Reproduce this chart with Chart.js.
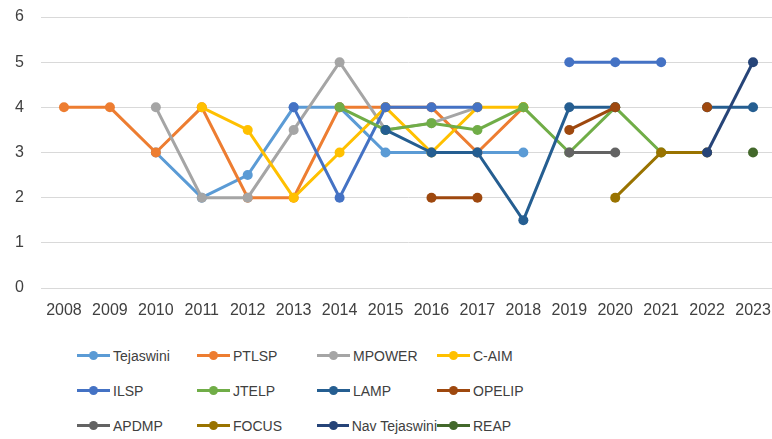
<!DOCTYPE html>
<html>
<head>
<meta charset="utf-8">
<script src="https://cdn.jsdelivr.net/npm/chart.js@4"></script>
<style>
  body { margin: 0; background: #fff; font-family: "Liberation Sans", Arial, sans-serif; }
  #wrap { position: relative; width: 772px; height: 439px; overflow: hidden; }
  #box { position: absolute; left: 0; top: 0; width: 781px; height: 330px; }
  #legend { position: absolute; left: 77px; top: 338px; display: grid;
            grid-template-columns: repeat(4, 120px); grid-auto-rows: 35px; }
  .item { display: flex; align-items: center; font-size: 14px; color: #404040; white-space: nowrap; }
  .swatch { position: relative; width: 33px; height: 3px; margin-right: 3px; }
  .swatch i { position: absolute; left: 12px; top: -3px; width: 9px; height: 9px; border-radius: 50%; }
</style>
</head>
<body>
<div id="wrap">
  <div id="box"><canvas id="chart"></canvas></div>
  <div id="legend"></div>
</div>
<script>
"use strict";

const years = ['2008','2009','2010','2011','2012','2013','2014','2015','2016','2017','2018','2019','2020','2021','2022','2023'];
const names = ['Tejaswini','PTLSP','MPOWER','C-AIM','ILSP','JTELP','LAMP','OPELIP','APDMP','FOCUS','Nav Tejaswini','REAP'];
const colors = ['#5B9BD5','#ED7D31','#A5A5A5','#FFC000','#4472C4','#70AD47','#255E91','#9E480E','#636363','#997300','#264478','#43682B'];

//                 2008  2009  2010  2011  2012  2013  2014  2015  2016  2017  2018  2019  2020  2021  2022  2023
const tejaswini = [null, null, 3,    2,    2.5,  4,    4,    3,    3,    3,    3,    null, null, null, null, null];
const ptlsp     = [4,    4,    3,    4,    2,    2,    4,    4,    4,    3,    4,    null, null, null, null, null];
const mpower    = [null, null, 4,    2,    2,    3.5,  5,    3.5,  3.65, 4,    null, null, null, null, null, null];
const caim      = [null, null, null, 4,    3.5,  2,    3,    4,    3,    4,    4,    null, null, null, null, null];
const ilsp      = [null, null, null, null, null, 4,    2,    4,    4,    4,    null, 5,    5,    5,    null, null];
const jtelp     = [null, null, null, null, null, null, 4,    3.5,  3.65, 3.5,  4,    3,    4,    3,    null, null];
const lamp      = [null, null, null, null, null, null, null, 3.5,  3,    3,    1.5,  4,    4,    null, 4,    4];
const opelip    = [null, null, null, null, null, null, null, null, 2,    2,    null, 3.5,  4,    null, 4,    null];
const apdmp     = [null, null, null, null, null, null, null, null, null, null, null, 3,    3,    null, null, null];
const focus     = [null, null, null, null, null, null, null, null, null, null, null, null, 2,    3,    3,    null];
const navTej    = [null, null, null, null, null, null, null, null, null, null, null, null, null, null, 3,    5];
const reap      = [null, null, null, null, null, null, null, null, null, null, null, null, null, null, null, 3];

const series = [tejaswini, ptlsp, mpower, caim, ilsp, jtelp, lamp, opelip, apdmp, focus, navTej, reap];
const yTicks = [0, 1, 2, 3, 4, 5, 6];

// later series sit on top, like the spreadsheet draws them
const datasets = series.map(function (values, i) {
    return {
        label: names[i],
        data: values,
        borderColor: colors[i],
        backgroundColor: colors[i],
        borderWidth: 3,
        pointRadius: 5,
        pointHoverRadius: 5,
        pointBorderWidth: 0,
        spanGaps: false,
        tension: 0,
        order: series.length - i
    };
});

const ctx = document.getElementById('chart');
new Chart(ctx, {
    type: 'line',
    data: { labels: years, datasets: datasets },
    options: {
        responsive: true,
        maintainAspectRatio: false,
        animation: false,
        layout: { padding: { left: 0, right: 0, top: 17, bottom: 0 } },
        plugins: {
            legend: { display: false },
            tooltip: { enabled: false }
        },
        scales: {
            x: {
                offset: true,
                grid: { display: false },
                border: { color: '#D9D9D9', width: 1 },
                ticks: { color: '#404040', font: { size: 16 }, maxRotation: 0, autoSkip: false, padding: 5 },
                afterFit: function (scale) {
                    scale.height = 42;
                    scale.paddingLeft = 0;
                    scale.paddingRight = 0;
                }
            },
            y: {
                min: yTicks[0],
                max: yTicks[yTicks.length - 1],
                grid: { color: '#D9D9D9', drawTicks: false },
                border: { display: false },
                ticks: { stepSize: 1, color: '#404040', font: { size: 16 }, padding: 17 },
                afterFit: function (scale) {
                    scale.width = 41;
                    scale.paddingTop = 0;
                    scale.paddingBottom = 0;
                }
            }
        }
    }
});

const legend = document.getElementById('legend');
names.forEach(function (name, i) {
    const item = document.createElement('div');
    item.className = 'item';
    item.innerHTML = '<span class="swatch" style="background:' + colors[i] + '"><i style="background:' + colors[i] + '"></i></span>' + name;
    legend.appendChild(item);
});
</script>
</body>
</html>
